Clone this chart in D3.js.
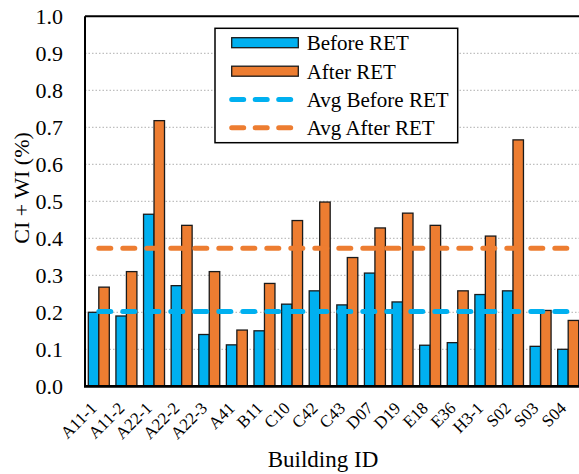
<!DOCTYPE html>
<html>
<head>
<meta charset="utf-8">
<script src="https://cdn.jsdelivr.net/npm/d3@7"></script>
<style>
  html, body { margin: 0; padding: 0; background: #fff; overflow: hidden; }
  svg text { font-family: "Liberation Serif", "Times New Roman", Times, "DejaVu Serif", serif !important; }
</style>
</head>
<body>
<svg id="chart" width="579" height="474"></svg>
<script>
// Building IDs along the x axis
const buildings = ["A11-1", "A11-2", "A22-1", "A22-2", "A22-3", "A41", "B11", "C10", "C42",
                   "C43", "D07", "D19", "E18", "E36", "H3-1", "S02", "S03", "S04"];
// CI + WI (%) before and after retrofit
const beforeRET = [0.20, 0.19, 0.465, 0.272, 0.14, 0.112, 0.15, 0.222, 0.258,
                   0.22, 0.306, 0.228, 0.111, 0.118, 0.248, 0.258, 0.108, 0.10];
const afterRET  = [0.268, 0.31, 0.718, 0.435, 0.31, 0.152, 0.278, 0.448, 0.498,
                   0.348, 0.428, 0.468, 0.435, 0.258, 0.406, 0.666, 0.205, 0.178];
// Average levels across all buildings
const avgBeforeRET = 0.202;
const avgAfterRET  = 0.373;
// Y axis ticks
const yTicks = [0, 0.1, 0.2, 0.3, 0.4, 0.5, 0.6, 0.7, 0.8, 0.9, 1.0];
const seriesNames = ["Before RET", "After RET"];
const legendLabels = ["Before RET", "After RET", "Avg Before RET", "Avg After RET"];

const BLUE = "#00B0F0", ORANGE = "#ED7D31";
const svg = d3.select("#chart");

const plot = { left: 85, right: 582, top: 16.3, bottom: 386.3 };

const x0 = d3.scaleBand().domain(buildings).range([plot.left, plot.right])
  .paddingInner(0.24).paddingOuter(0.12);
const x1 = d3.scaleBand().domain(seriesNames).range([0, x0.bandwidth()]).padding(0);
const y = d3.scaleLinear().domain([0, 1]).range([plot.bottom, plot.top]);

// dotted horizontal gridlines
svg.append("g").selectAll("line").data(yTicks.filter(t => t > 0 && t < 1)).join("line")
  .attr("x1", plot.left).attr("x2", plot.right)
  .attr("y1", d => y(d)).attr("y2", d => y(d))
  .attr("stroke", "#bfbfbf").attr("stroke-width", 1.2)
  .attr("stroke-dasharray", "1.5,2");

// bars
const rows = buildings.map((b, i) => ({ id: b, vals: [beforeRET[i], afterRET[i]] }));
const groups = svg.append("g").selectAll("g").data(rows).join("g")
  .attr("transform", d => `translate(${x0(d.id)},0)`);
groups.selectAll("rect").data(d => d.vals.map((v, k) => ({ s: seriesNames[k], v })))
  .join("rect")
  .attr("x", d => x1(d.s))
  .attr("width", x1.bandwidth())
  .attr("y", d => y(d.v))
  .attr("height", d => y(0) - y(d.v))
  .attr("fill", d => d.s === "Before RET" ? BLUE : ORANGE)
  .attr("stroke", "#1a1a1a").attr("stroke-width", 1.3);

// average lines, spanning first to last category centre
const cx = id => x0(id) + x0.bandwidth() / 2;
[[avgBeforeRET, BLUE], [avgAfterRET, ORANGE]].forEach(([v, c]) => {
  svg.append("line")
    .attr("x1", cx(buildings[0])).attr("x2", cx(buildings[buildings.length - 1]))
    .attr("y1", y(v)).attr("y2", y(v))
    .attr("stroke", c).attr("stroke-width", 5)
    .attr("stroke-linecap", "round").attr("stroke-dasharray", "12,12");
});

// plot frame: top border, left axis
svg.append("line").attr("x1", plot.left).attr("x2", plot.right)
  .attr("y1", plot.top).attr("y2", plot.top).attr("stroke", "#000").attr("stroke-width", 2);
svg.append("line").attr("x1", plot.left).attr("x2", plot.left)
  .attr("y1", plot.top).attr("y2", plot.bottom).attr("stroke", "#000").attr("stroke-width", 2);

// y axis labels
const yAxis = d3.axisLeft(y).tickValues(yTicks).tickFormat(d3.format(".1f")).tickSize(0).tickPadding(22);
const gy = svg.append("g").attr("transform", `translate(${plot.left},0)`).call(yAxis);
gy.attr("font-family", null);
gy.select(".domain").remove();
gy.selectAll("text").attr("font-size", 22).attr("fill", "#000");

// x axis with rotated labels
const xAxis = d3.axisBottom(x0).tickSize(0).tickPadding(0);
const gx = svg.append("g").attr("transform", `translate(0,${plot.bottom})`).call(xAxis);
gx.attr("font-family", null);
gx.select(".domain").remove();
gx.selectAll("text")
  .attr("font-size", 17).attr("fill", "#000")
  .attr("text-anchor", "end").attr("dy", 0).attr("y", 0)
  .attr("transform", "translate(-1,23) rotate(-45)");
svg.append("line").attr("x1", plot.left - 1).attr("x2", plot.right)
  .attr("y1", plot.bottom).attr("y2", plot.bottom).attr("stroke", "#000").attr("stroke-width", 2.7);

// axis titles
svg.append("text").attr("x", 323).attr("y", 467).attr("text-anchor", "middle")
  .attr("font-size", 23).text("Building ID");
svg.append("text").attr("transform", "translate(29,188) rotate(-90)")
  .attr("text-anchor", "middle").attr("font-size", 22).text("CI + WI (%)");

// legend
const lg = svg.append("g");
lg.append("rect").attr("x", 215).attr("y", 28.3).attr("width", 242.7).attr("height", 114.4)
  .attr("fill", "#fff").attr("stroke", "#000").attr("stroke-width", 1.5);
const rowY = [42.7, 71.2, 99.5, 127.8];
legendLabels.forEach((lab, i) => {
  const c = i % 2 === 0 ? BLUE : ORANGE;
  if (i < 2) {
    lg.append("rect").attr("x", 231.7).attr("y", rowY[i] - 5).attr("width", 66.6).attr("height", 10)
      .attr("fill", c).attr("stroke", "#1a1a1a").attr("stroke-width", 1.3);
  } else {
    lg.append("line").attr("x1", 231.7).attr("x2", 298).attr("y1", rowY[i]).attr("y2", rowY[i])
      .attr("stroke", c).attr("stroke-width", 5).attr("stroke-linecap", "round")
      .attr("stroke-dasharray", "12,11.5");
  }
  lg.append("text").attr("x", 306.7).attr("y", rowY[i]).attr("dy", "0.35em")
    .attr("font-size", 21).text(lab);
});
</script>
</body>
</html>
